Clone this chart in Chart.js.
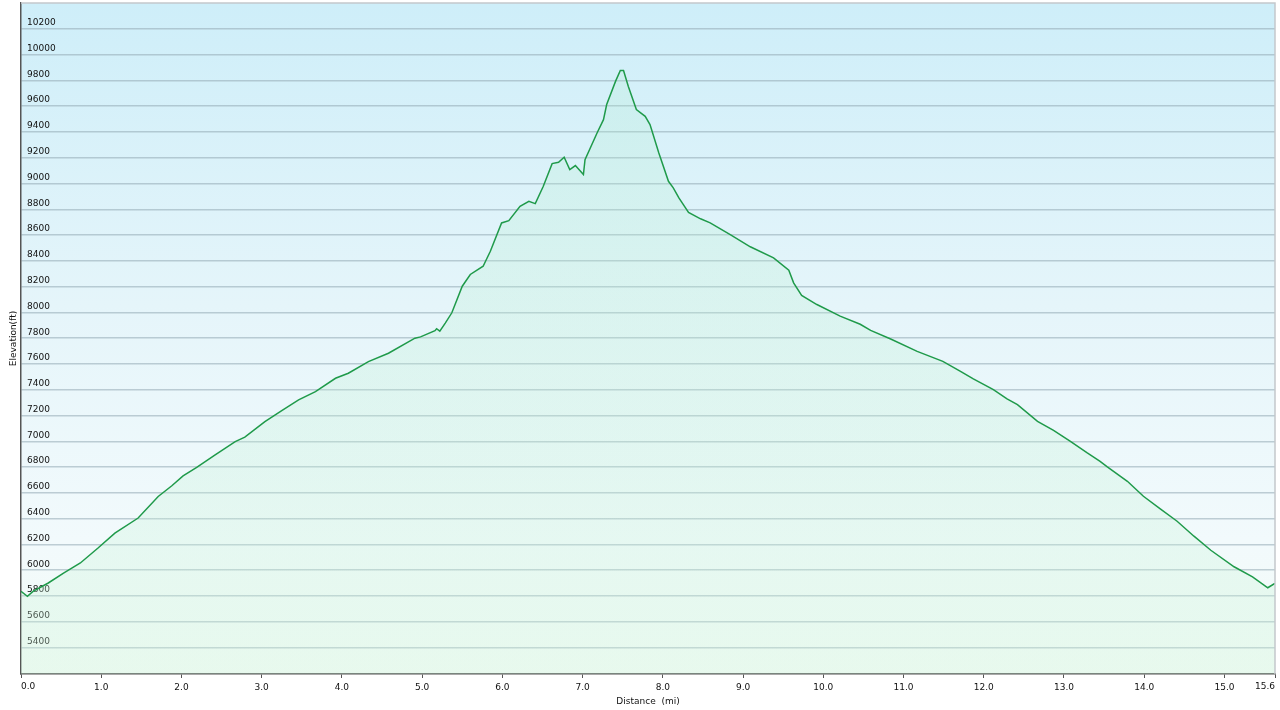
<!DOCTYPE html>
<html>
<head>
<meta charset="utf-8">
<script src="https://cdn.jsdelivr.net/npm/chart.js@4/dist/chart.umd.min.js"></script>
<style>
  html, body { margin: 0; padding: 0; background: #ffffff; }
  #wrap { width: 1280px; height: 710px; }
</style>
</head>
<body>
<div id="wrap"><canvas id="profile" width="1280" height="710"></canvas></div>
<script>
"use strict";

// distance along the track, miles
const distance = [
    0.00, 0.08, 0.15, 0.34, 0.53, 0.74, 0.96, 1.17, 1.46, 1.71,
    1.88, 2.02, 2.19, 2.42, 2.67, 2.79, 3.04, 3.25, 3.46, 3.67,
    3.92, 4.08, 4.33, 4.58, 4.91, 4.98, 5.16, 5.18, 5.22, 5.29,
    5.37, 5.50, 5.60, 5.76, 5.85, 5.99, 6.08, 6.22, 6.33, 6.41,
    6.51, 6.62, 6.70, 6.77, 6.84, 6.91, 7.01, 7.03, 7.18, 7.26,
    7.30, 7.41, 7.47, 7.51, 7.57, 7.67, 7.78, 7.84, 7.95, 8.07,
    8.13, 8.20, 8.32, 8.47, 8.59, 8.84, 9.09, 9.38, 9.57, 9.63,
    9.73, 9.92, 10.21, 10.46, 10.59, 10.84, 11.17, 11.49, 11.71, 11.87,
    12.12, 12.29, 12.42, 12.67, 12.87, 13.08, 13.29, 13.45, 13.54, 13.79,
    13.99, 14.20, 14.41, 14.62, 14.83, 15.12, 15.35, 15.54, 15.62, 15.63
];

// elevation, feet
const elevation = [
    5836, 5797, 5836, 5901, 5978, 6056, 6172, 6288, 6405, 6572,
    6655, 6732, 6797, 6895, 6998, 7032, 7153, 7238, 7321, 7386,
    7489, 7528, 7618, 7683, 7800, 7810, 7858, 7873, 7854, 7919,
    7997, 8203, 8294, 8358, 8474, 8694, 8712, 8823, 8862, 8844,
    8978, 9154, 9164, 9203, 9108, 9139, 9069, 9185, 9392, 9495,
    9612, 9792, 9877, 9877, 9753, 9573, 9521, 9457, 9237, 9017,
    8966, 8888, 8775, 8726, 8695, 8604, 8509, 8423, 8327, 8229,
    8131, 8061, 7971, 7908, 7860, 7794, 7698, 7620, 7543, 7484,
    7401, 7329, 7285, 7155, 7085, 7000, 6910, 6845, 6802, 6690,
    6574, 6476, 6380, 6264, 6155, 6027, 5949, 5864, 5895, 5895
];

// tick labels
const distTicks = [0, 1, 2, 3, 4, 5, 6, 7, 8, 9, 10, 11, 12, 13, 14, 15, 15.63];
const elevTicks = [5400, 5600, 5800, 6000, 6200, 6400, 6600, 6800, 7000, 7200, 7400,
    7600, 7800, 8000, 8200, 8400, 8600, 8800, 9000, 9200, 9400, 9600, 9800, 10000, 10200];

const FONT = 'DejaVu Sans';
const firstDist = distTicks[0];
const lastDist = distTicks[distTicks.length - 1];

// фон области графика и крайние подписи оси X
const plotBackground = {
    id: 'plotBackground',
    beforeDraw(chart) {
        const { ctx, chartArea: a } = chart;
        const g = ctx.createLinearGradient(0, a.top, 0, a.bottom);
        g.addColorStop(0, '#ceeef9');
        g.addColorStop(0.45, '#e5f5fa');
        g.addColorStop(0.8, '#f2fafc');
        g.addColorStop(1, '#f3fbf6');
        ctx.save();
        ctx.fillStyle = g;
        ctx.fillRect(a.left, a.top, a.right - a.left, a.bottom - a.top);
        ctx.restore();
    },
    afterDraw(chart) {
        const { ctx, chartArea: a } = chart;
        ctx.save();
        ctx.strokeStyle = '#c4c8cc';
        ctx.lineWidth = 1.5;
        ctx.beginPath();
        ctx.moveTo(a.left, a.top);
        ctx.lineTo(a.right, a.top);
        ctx.lineTo(a.right, a.bottom);
        ctx.stroke();

        // первая подпись выровнена влево, последняя - вправо
        const xs = chart.scales.x;
        const ty = a.bottom + 13;
        ctx.fillStyle = '#111111';
        ctx.font = '9px "' + FONT + '"';
        ctx.textBaseline = 'middle';
        ctx.textAlign = 'left';
        ctx.fillText(firstDist.toFixed(1), xs.getPixelForValue(firstDist), ty);
        ctx.textAlign = 'right';
        ctx.fillText(lastDist.toFixed(1), xs.getPixelForValue(lastDist), ty);
        ctx.restore();
    }
};

function areaFill(context) {
    const a = context.chart.chartArea;
    if (!a) return 'rgba(170,230,195,0.2)';
    const g = context.chart.ctx.createLinearGradient(0, a.top, 0, a.bottom);
    g.addColorStop(0, 'rgba(170,235,200,0.2)');
    g.addColorStop(1, 'rgba(205,245,218,0.3)');
    return g;
}

const points = distance.map((d, i) => ({ x: d, y: elevation[i] }));

new Chart(document.getElementById('profile'), {
    type: 'line',
    data: {
        datasets: [{
            data: points,
            borderColor: '#1f9a4a',
            borderWidth: 1.5,
            backgroundColor: areaFill,
            fill: 'start',
            pointRadius: 0,
            tension: 0
        }]
    },
    options: {
        responsive: false,
        animation: false,
        layout: { padding: { top: 3, right: 5, left: 0, bottom: 0 } },
        plugins: {
            legend: { display: false },
            tooltip: { enabled: false }
        },
        scales: {
            x: {
                type: 'linear',
                min: firstDist,
                max: lastDist,
                afterBuildTicks(scale) {
                    scale.ticks = distTicks.map(v => ({ value: v }));
                },
                afterFit(scale) {
                    scale.height = 36;
                    scale.paddingLeft = 0;
                    scale.paddingRight = 0;
                },
                border: { color: '#555555', width: 1.5 },
                grid: { drawOnChartArea: false, tickLength: 4, color: '#555555', lineWidth: 1 },
                ticks: {
                    color: '#111111',
                    font: { family: FONT, size: 9 },
                    padding: 4,
                    maxRotation: 0,
                    autoSkip: false,
                    callback: v => (v === firstDist || v === lastDist) ? '' : v.toFixed(1)
                },
                title: {
                    display: true,
                    text: 'Distance  (mi)',
                    color: '#111111',
                    font: { family: FONT, size: 9 },
                    padding: { top: 0, bottom: 3 }
                }
            },
            y: {
                min: 5195,
                max: 10400,
                afterBuildTicks(scale) {
                    scale.ticks = elevTicks.map(v => ({ value: v }));
                },
                afterFit(scale) {
                    scale.width = 21;
                    scale.paddingTop = 0;
                    scale.paddingBottom = 0;
                },
                border: { color: '#555555', width: 1.5 },
                grid: { color: 'rgba(145,168,178,0.55)', lineWidth: 1.5, drawTicks: false },
                ticks: {
                    mirror: true,
                    padding: 6,
                    labelOffset: -6,
                    color: '#111111',
                    font: { family: FONT, size: 9 },
                    callback: v => String(v)
                },
                title: {
                    display: true,
                    text: 'Elevation(ft)',
                    color: '#111111',
                    font: { family: FONT, size: 9 },
                    padding: { top: 8, bottom: 0 }
                }
            }
        }
    },
    plugins: [plotBackground]
});
</script>
</body>
</html>
